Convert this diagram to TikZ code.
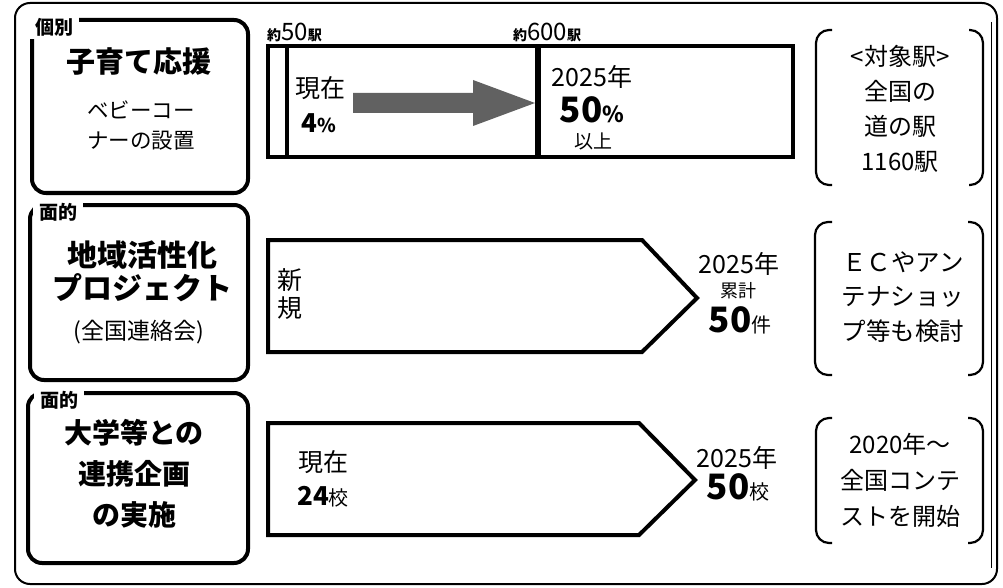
\documentclass[tikz,border=0pt]{standalone}
\usepackage{fontspec}
\setmainfont{Noto Sans CJK JP}
\newcommand{\myfs}[2]{\fontsize{#1}{#2}\selectfont}
\begin{document}
\begin{tikzpicture}[x=1pt,y=-1pt,
  box/.style={line width=4pt, rounded corners=14pt},
  tag/.style={fill=white, inner xsep=6pt, inner ysep=3pt, font=\bfseries\myfs{19}{19}},
  title/.style={font=\bfseries\myfs{29}{33}, align=center, inner sep=0pt},
  sub/.style={font=\myfs{21.5}{30}, align=center, inner sep=0pt},
  rowline/.style={line width=4pt, line join=miter},
  brk/.style={line width=2.2pt, rounded corners=13pt},
  btxt/.style={font=\myfs{24}{35}, align=center, inner sep=0pt},
  val/.style={font=\myfs{25}{28}, align=center, inner sep=0pt},
  arrowfill/.style={fill=black!62, draw=none}
]
\useasboundingbox (0,0) rectangle (1003,588);
\fill[white] (0,0) rectangle (1003,588);
% outer frame
\draw[line width=2pt, rounded corners=15pt] (15,3) rectangle (997,584);
\draw[line width=0.8pt] (991,22) -- (991,568);

% left boxes
\draw[box] (32,20) rectangle (248,193);
\node[tag] (t1) at (54,27) {個別};
\node[title] (n1) at (139,62) {子育て応援};
\node[sub] (s1) at (141,126) {ベビーコー\\ナーの設置};

\draw[box] (30,205) rectangle (248,380);
\node[tag] (t2) at (58,212) {面的};
\node[title, font=\bfseries\myfs{30}{33}] (n2) at (142,271.5) {地域活性化\\プロジェクト};
\node[sub, font=\myfs{23}{23}] (s2) at (139,332) {(全国連絡会)};

\draw[box] (28,393) rectangle (248,563);
\node[tag] (t3) at (59,400) {面的};
\node[title, font=\bfseries\myfs{28}{41}] (n3) at (134,474) {大学等との\\連携企画\\の実施};

% row 1
\draw[rowline] (268,46) rectangle (793,157);
\draw[line width=4pt] (287,46) -- (287,157);
\draw[line width=6pt] (538,46) -- (538,157);
\node[anchor=base west, inner sep=0pt] (k50) at (267,41) {{\bfseries\myfs{14}{14}約}{\myfs{24}{24}50}{\bfseries\myfs{14}{14}駅}};
\node[anchor=base west, inner sep=0pt] (k600) at (513,41) {{\bfseries\myfs{14}{14}約}{\myfs{24}{24}600}{\bfseries\myfs{14}{14}駅}};
\node[val] (now1) at (320,88) {現在};
\node[val] (p4) at (319,123) {{\bfseries\myfs{26}{26}4}{\myfs{19}{19}\bfseries\%}};
\coordinate (a0) at (353,103);
\coordinate (a1) at (535,103);
\fill[arrowfill] (353,93) -- (473,93) -- (473,80) -- (a1) -- (473,126) -- (473,113) -- (353,113) -- cycle;
\node[val] (y1) at (592,77) {2025年};
\node[val] (p50) at (592,110) {{\myfs{35}{35}\bfseries 50}{\myfs{22}{22}\bfseries\%}};
\node[val, font=\myfs{19}{19}] (ij) at (593,141) {以上};

% row 2
\draw[rowline] (268,240) -- (642,240) -- (697,298) -- (642,352) -- (268,352) -- cycle;
\node[val, font=\myfs{25}{28}] (sk) at (290,294) {新\\規};
\node[val] (y2) at (739,264) {2025年};
\node[val, font=\myfs{18}{18}] (rk) at (738,291) {累計};
\node[val] (c50) at (740,320) {{\myfs{35}{35}\bfseries 50}{\myfs{20}{20}件}};

% row 3
\draw[rowline] (268,423) -- (639,423) -- (695,480) -- (639,535) -- (268,535) -- cycle;
\node[val] (now3) at (323,462) {現在};
\node[val] (s24) at (323,497) {{\bfseries\myfs{26}{26}24}{\myfs{20}{20}校}};
\node[val] (y3) at (737,458) {2025年};
\node[val] (s50) at (738,487) {{\myfs{35}{35}\bfseries 50}{\myfs{20}{20}校}};

% brackets
\draw[brk] (832,30) -- (816,30) -- (816,185) -- (832,185);
\draw[brk] (969,30) -- (983,30) -- (983,185) -- (969,185);
\node[btxt] (b1) at (900,109) {<対象駅>\\全国の\\道の駅\\1160駅};

\draw[brk] (832,222) -- (815,222) -- (815,375) -- (832,375);
\draw[brk] (968,222) -- (983,222) -- (983,375) -- (968,375);
\node[btxt, font=\myfs{24.5}{34.5}] (b2) at (903,297) {ＥＣやアン\\テナショッ\\プ等も検討};

\draw[brk] (832,418) -- (816,418) -- (816,543) -- (832,543);
\draw[brk] (968,418) -- (983,418) -- (983,543) -- (968,543);
\node[btxt, font=\myfs{24}{36}] (b3) at (900,480) {2020年～\\全国コンテ\\ストを開始};
\end{tikzpicture}
\end{document}
